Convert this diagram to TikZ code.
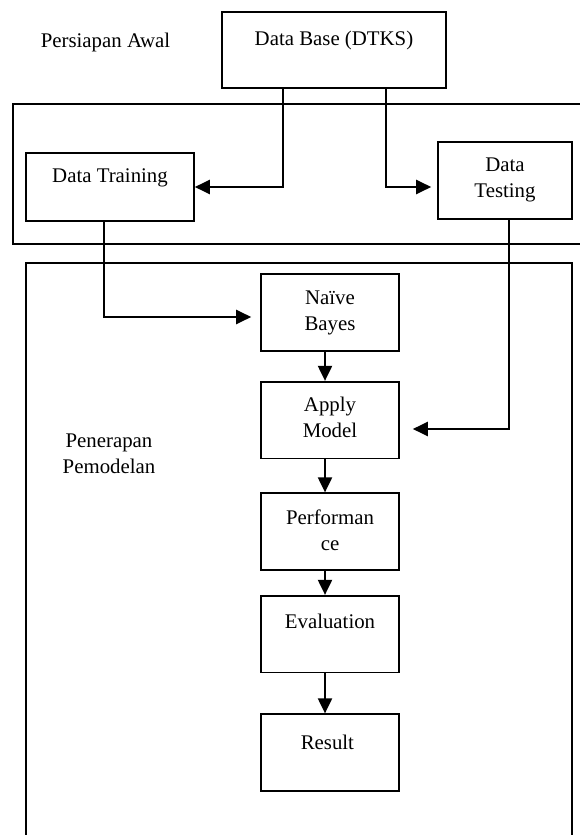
\documentclass[tikz,border=0pt]{standalone}
\usepackage{fontspec}
\setmainfont{Liberation Serif}
\usetikzlibrary{arrows.meta,positioning,calc}

\tikzset{
    box/.style={draw, line width=1pt, inner sep=0pt},
    txt/.style={anchor=north, inner sep=0pt, align=center},
    arr/.style={-{Triangle[length=9pt,width=8.5pt]}, line width=1pt},
    frame/.style={line width=0.9pt}
}

\begin{document}
\begin{tikzpicture}[x=0.6pt, y=-0.6pt, font=\fontsize{12.5pt}{15.6pt}\selectfont]
    \useasboundingbox (0,0) rectangle (580,835);
    \clip (0,0) rectangle (580,835);

    % Frames
    \draw[frame] (13,104) rectangle (640,244);
    \draw[frame] (26,263) rectangle (572,900);

    % Labels
    \node[anchor=base, inner sep=0pt] (pa) at (105.5,48) {Persiapan Awal};
    \node[txt] (pp) at (109,434) {Penerapan\\Pemodelan};

    % Data
    \node[box, minimum width=134.4pt, minimum height=45.6pt] (db) at (334,50) {};
    \node[txt, yshift=-12pt] (db-t) at (db.north) {Data Base (DTKS)};
    \node[box, minimum width=100.8pt, minimum height=40.8pt] (train) at (110,187) {};
    \node[txt, yshift=-9.6pt] (train-t) at (train.north) {Data Training};
    \node[box, minimum width=80.4pt, minimum height=46.2pt] (test) at (505,180.5) {};
    \node[txt, yshift=-9.6pt] (test-t) at (test.north) {Data\\Testing};

    % Model steps
    \foreach \n/\y/\o/\t in {
            nb/312.5/10.2/{Naïve\\Bayes},
            apply/420/9.6/{Apply\\Model},
            perf/531.5/10.2/{Performan\\ce},
            eval/634/11.4/{Evaluation},
            res/752.5/12.6/{Result}
            } {
        \node[box, minimum width=82.8pt, minimum height=46pt] (\n) at (330,\y) {};
        \node[txt, yshift=-\o pt] (\n-t) at (\n.north) {\t};
    }

    % Connectors
    \draw[arr] ($(db.south)+(-51,0)$) |- (train.east);
    \draw[arr, shorten >=3.6pt] ($(db.south)+(52,0)$) |- (test.west |- train.east);
    \draw[arr, shorten >=5.4pt] ($(train.south)+(-6,0)$) |- ($(nb.west)+(0,4.5)$);
    \draw[arr, shorten >=7.8pt] ($(test.south)+(4,0)$) |- ($(apply.east)+(0,9)$);

    \foreach \a/\b in {nb/apply, apply/perf, perf/eval, eval/res} {
        \draw[arr] ($(\a.south)+(-5,0)$) -- ($(\b.north)+(-5,0)$);
    }
\end{tikzpicture}
\end{document}
